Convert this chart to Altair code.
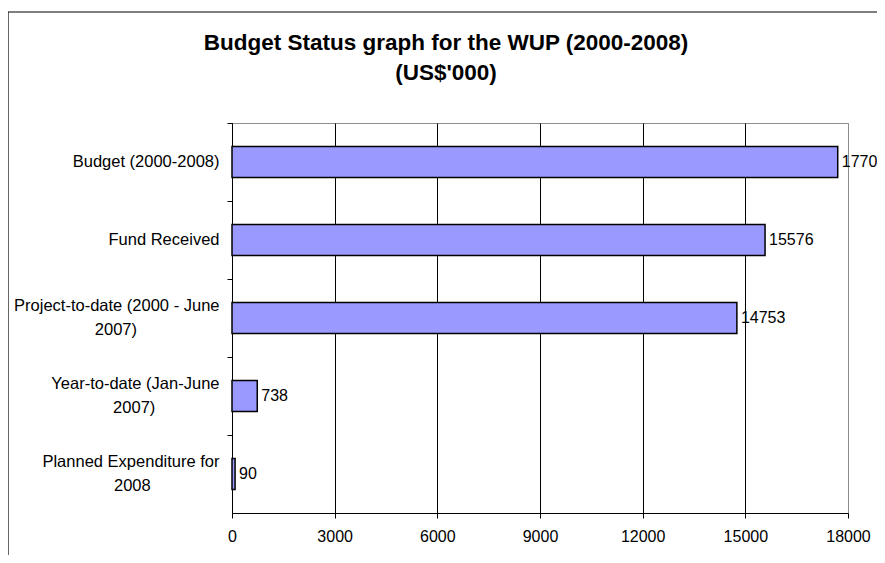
import altair as alt
import pandas as pd

NB = "\u00a0"
ZW = "\u200b"
categories = [
    "Budget (2000-2008)",
    "Fund Received",
    "Project-to-date (2000 - June\n2007)" + NB * 18 + ZW,
    "Year-to-date (Jan-June\n2007)" + NB * 14 + ZW,
    "Planned Expenditure for\n2008" + NB * 15 + ZW,
]
values = [17700, 15576, 14753, 738, 90]
x_ticks = [0, 3000, 6000, 9000, 12000, 15000, 18000]
title_lines = ["Budget Status graph for the WUP (2000-2008)", "(US$'000)"]

FONT = "Liberation Sans"
df = pd.DataFrame({"category": categories, "value": values})

base = alt.Chart(df)

y_enc = alt.Y(
    "category:N",
    sort=categories,
    scale=alt.Scale(paddingInner=0, paddingOuter=0),
    axis=alt.Axis(
        title=None,
        bandPosition=0,
        domainColor="black",
        tickColor="black",
        tickSize=5,
        labelFont=FONT,
        labelFontSize=16.5,
        labelColor="black",
        labelLineHeight=24,
        labelPadding=8,
        labelLimit=400,
        labelOffset={"condition": {"test": "indexof(datum.value, '\\n') >= 0", "value": -12}, "value": 0},
        labelExpr="split(datum.label, '\\n')",
        grid=False,
    ),
)

x_enc = alt.X(
    "value:Q",
    scale=alt.Scale(domain=[0, 18000], nice=False),
    axis=alt.Axis(
        title=None,
        values=x_ticks,
        format="d",
        domainColor="black",
        tickColor="black",
        tickSize=5,
        labelFont=FONT,
        labelFontSize=16,
        labelColor="black",
        labelPadding=10,
        labelFlush=False,
        grid=True,
        gridColor={"condition": {"test": "datum.value >= 18000", "value": "#8c8c8c"}, "value": "black"},
        gridWidth=1,
    ),
)

bars = base.mark_bar(size=31, color="#9999FF", stroke="black", strokeWidth=1.5).encode(
    x=x_enc, y=y_enc
)

labels = base.mark_text(
    align="left", baseline="middle", dx=4, font=FONT, fontSize=16, color="black"
).encode(
    x="value:Q",
    y=alt.Y("category:N", sort=categories),
    text="value:Q",
)

frame = alt.Chart(pd.DataFrame({"k": [0]})).mark_rect(
    fillOpacity=0, stroke="black", strokeWidth=1.2
).encode(
    x=alt.value(-224), x2=alt.value(660), y=alt.value(-111), y2=alt.value(470)
)

chart = alt.layer(frame, bars, labels).properties(
    width=616,
    height=390,
    autosize=alt.AutoSizeParams(type="none"),
    padding={"left": 224, "top": 115, "right": 29, "bottom": 42},
    title=alt.TitleParams(
        text=title_lines,
        font=FONT,
        fontSize=22.5,
        fontWeight="bold",
        color="black",
        anchor="middle",
        dx=-94,
        lineHeight=30,
        offset=-73,
    ),
).configure_view(stroke="#8c8c8c", strokeWidth=1)

chart.save("out.html", embed_options={"renderer": "svg", "actions": False})
